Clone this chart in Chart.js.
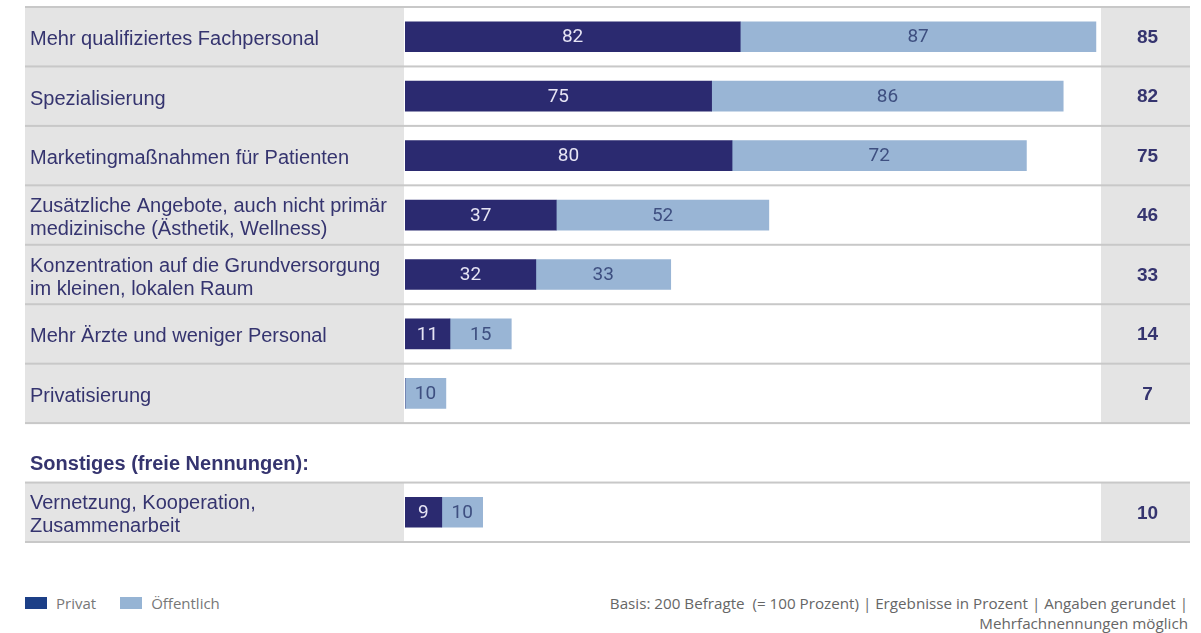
<!DOCTYPE html>
<html>
<head>
<meta charset="utf-8">
<script src="https://cdn.jsdelivr.net/npm/chart.js@4"></script>
<style>
  html,body{margin:0;padding:0;background:#fff;}
  body{width:1201px;height:633px;overflow:hidden;position:relative;font-family:"Open Sans","Liberation Sans",Arial,sans-serif;}
  #wrap{position:absolute;left:0;top:0;width:1201px;height:560px;}
  #legend{position:absolute;left:25px;top:595px;font-size:15px;color:#777;display:flex;align-items:center;line-height:16px;}
  #legend .sw{display:inline-block;width:22px;height:12px;margin-right:9px;}
  #legend .item{display:flex;align-items:center;margin-right:24px;}
  #note{position:absolute;right:13px;top:593px;font-size:15.2px;color:#666;text-align:right;line-height:20px;}
</style>
</head>
<body>
<div id="wrap"><canvas id="c" width="1201" height="560"></canvas></div>
<div id="legend"></div>
<div id="note"></div>
<script>
// ---- data ----
const categories = [
  'Mehr qualifiziertes Fachpersonal',
  'Spezialisierung',
  'Marketingmaßnahmen für Patienten',
  ['Zusätzliche Angebote, auch nicht primär', 'medizinische (Ästhetik, Wellness)'],
  ['Konzentration auf die Grundversorgung', 'im kleinen, lokalen Raum'],
  'Mehr Ärzte und weniger Personal',
  'Privatisierung',
  'Sonstiges (freie Nennungen):',
  ['Vernetzung, Kooperation,', 'Zusammenarbeit']
];
const headerIndex = 7;
const privat      = [82, 75, 80, 37, 32, 11, 0,  null, 9];
const oeffentlich = [87, 86, 72, 52, 33, 15, 10, null, 10];
const gesamt      = [85, 82, 75, 46, 33, 14, 7,  null, 10];
const seriesNames = ['Privat', 'Öffentlich'];
const noteLines = [
  'Basis: 200 Befragte  (= 100 Prozent) | Ergebnisse in Prozent | Angaben gerundet |',
  'Mehrfachnennungen möglich'
];

// ---- styles ----
const DARK = '#2b2a70';
const LIGHT = '#99b5d5';
const LEG_DARK = '#1c3f87';
const LEG_LIGHT = '#96b4d4';
const NAVY_TEXT = '#35346f';
const GRAY_BG = '#e4e4e4';
const LINE = '#c8c8c8';
const LEFT_X = 25, LABEL_END = 404, RIGHT_COL = 1101, RIGHT_END = 1190;

const decor = {
  id: 'decor',
  beforeDraw(chart) {
    const ctx = chart.ctx, y = chart.scales.y;
    const h = y.getPixelForValue(1) - y.getPixelForValue(0);
    ctx.save();
    categories.forEach((c, i) => {
      if (i === headerIndex) return;
      const top = y.getPixelForValue(i) - h / 2;
      ctx.fillStyle = GRAY_BG;
      ctx.fillRect(LEFT_X, top, LABEL_END - LEFT_X, h);
      ctx.fillRect(RIGHT_COL, top, RIGHT_END - RIGHT_COL, h);
    });
    for (let i = 0; i <= categories.length; i++) {
      const yy = y.getPixelForValue(0) - h / 2 + i * h;
      ctx.fillStyle = LINE;
      ctx.fillRect(LEFT_X, yy - 1, RIGHT_END - LEFT_X, 2);
    }
    ctx.restore();
  },
  afterDatasetsDraw(chart) {
    const ctx = chart.ctx, y = chart.scales.y;
    ctx.save();
    ctx.textBaseline = 'middle';
    chart.data.datasets.forEach((ds, di) => {
      const meta = chart.getDatasetMeta(di);
      meta.data.forEach((bar, i) => {
        const v = ds.data[i];
        if (!v) return;
        ctx.font = '19px Roboto, "Liberation Sans", sans-serif';
        ctx.fillStyle = di === 0 ? '#e6e4f4' : '#3e4f80';
        ctx.textAlign = 'center';
        ctx.fillText(String(v), (bar.x + bar.base) / 2, bar.y + 1);
      });
    });
    ctx.font = 'bold 19px "Liberation Sans", Arial, sans-serif';
    ctx.fillStyle = NAVY_TEXT;
    ctx.textAlign = 'center';
    gesamt.forEach((v, i) => {
      if (v === null) return;
      ctx.fillText(String(v), (RIGHT_COL + RIGHT_END) / 2 + 2, y.getPixelForValue(i) + 1);
    });
    ctx.font = 'bold 20px "Liberation Sans", Arial, sans-serif';
    ctx.textAlign = 'left';
    ctx.fillText(categories[headerIndex], 30, y.getPixelForValue(headerIndex) + 12);
    ctx.restore();
  }
};

new Chart(document.getElementById('c'), {
  type: 'bar',
  data: {
    labels: categories,
    datasets: [
      { label: seriesNames[0], data: privat, backgroundColor: DARK, barThickness: 30, borderWidth: 0 },
      { label: seriesNames[1], data: oeffentlich, backgroundColor: LIGHT, barThickness: 30, borderWidth: 0 }
    ]
  },
  options: {
    indexAxis: 'y',
    responsive: false,
    animation: false,
    layout: { padding: { left: 30, right: 101, top: 7, bottom: 18 } },
    plugins: { legend: { display: false }, tooltip: { enabled: false } },
    scales: {
      x: { stacked: true, min: 0, max: 170, display: false },
      y: {
        stacked: true,
        grid: { display: false },
        border: { display: false },
        afterFit(scale) { scale.width = 375; scale.paddingTop = 0; scale.paddingBottom = 0; },
        ticks: {
          crossAlign: 'far',
          padding: 0,
          labelOffset: 3,
          color: NAVY_TEXT,
          font: { family: '"Liberation Sans", Arial, sans-serif', size: 20, lineHeight: 1.15 },
          callback(value, index) { return index === headerIndex ? '' : categories[index]; }
        }
      }
    }
  },
  plugins: [decor]
});

const leg = document.getElementById('legend');
[[seriesNames[0], LEG_DARK], [seriesNames[1], LEG_LIGHT]].forEach(([n, c]) => {
  const it = document.createElement('span'); it.className = 'item';
  const sw = document.createElement('span'); sw.className = 'sw'; sw.style.background = c;
  it.appendChild(sw); it.appendChild(document.createTextNode(n)); leg.appendChild(it);
});
document.getElementById('note').innerHTML = noteLines.map(s => s.replace(/  /g, ' &nbsp;')).join('<br>');
</script>
</body>
</html>
